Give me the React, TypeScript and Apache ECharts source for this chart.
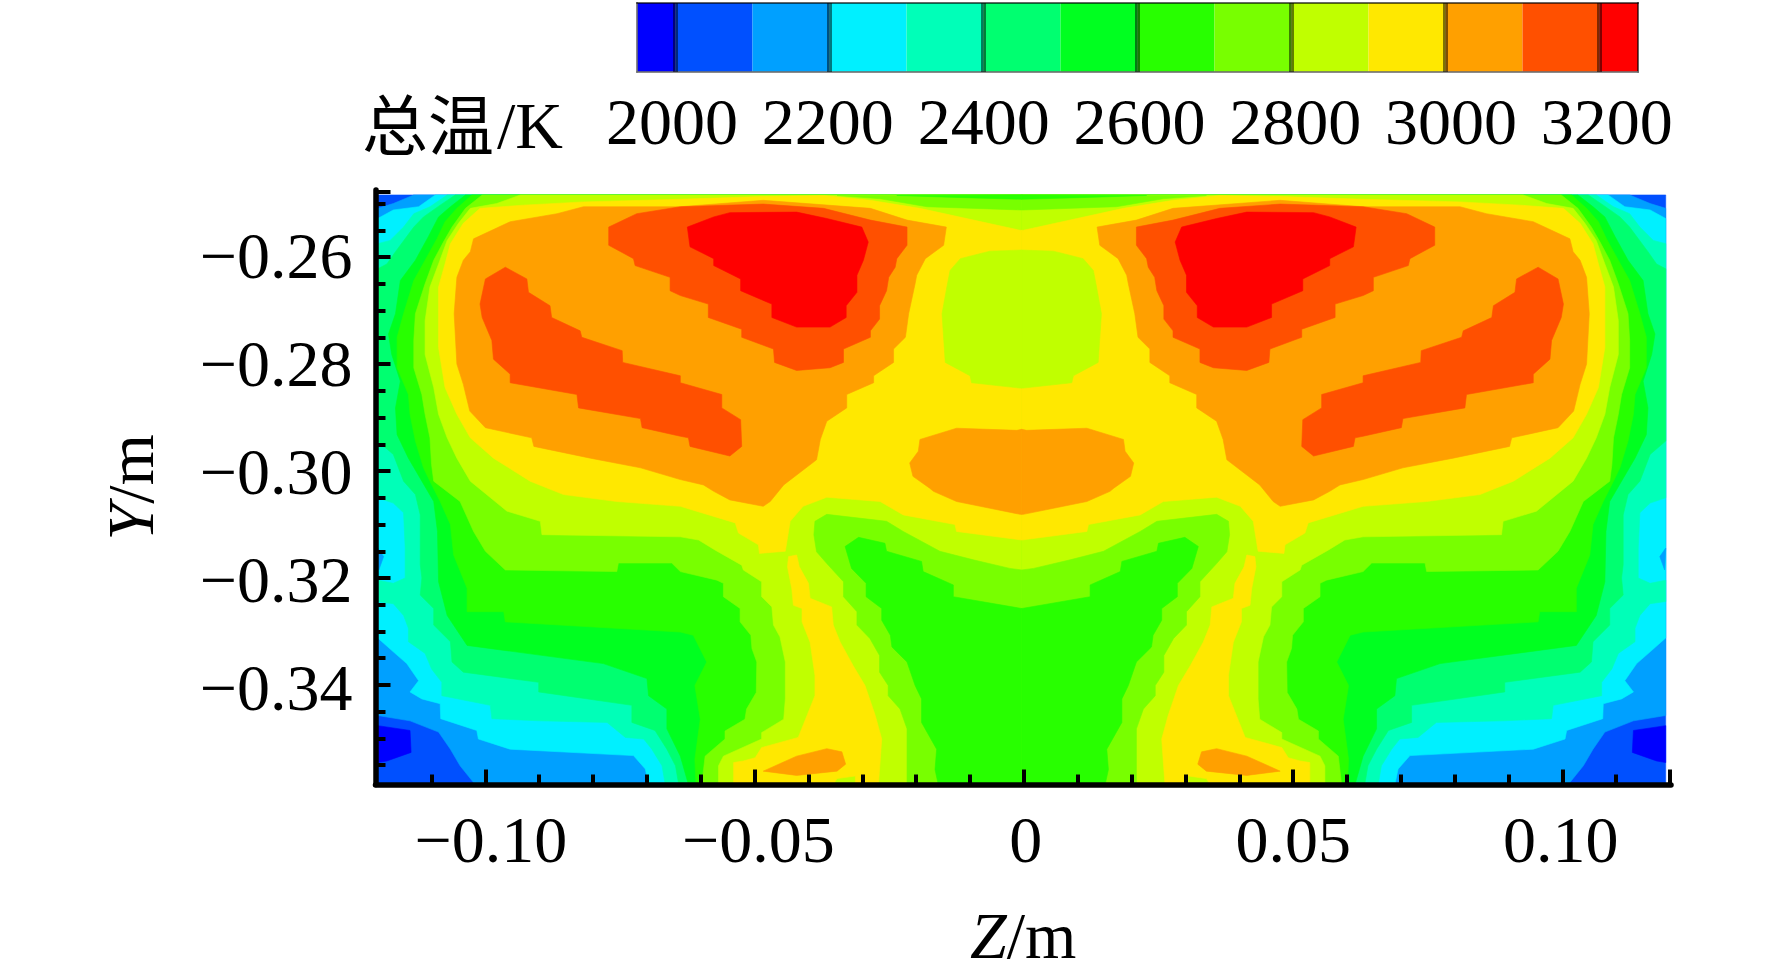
import React, { useEffect, useRef } from "react";
import * as echarts from "echarts";

// Temperature bands of the colour bar (K) and their colours.
const BAND_EDGES = [1950, 2000, 2100, 2200, 2300, 2400, 2500, 2600, 2700, 2800, 2900, 3000, 3100, 3200, 3250];
const BAND_COLORS = ["#0000ff", "#0050ff", "#00a0ff", "#00f0ff", "#00ffb8", "#00ff70", "#00ff20", "#28ff00", "#78ff00", "#c0ff00", "#ffe800", "#ffa000", "#ff5000", "#ff0000"];
const BAR_LABELS = [2000, 2200, 2400, 2600, 2800, 3000, 3200];
const Z_LABELS = [-0.1, -0.05, 0, 0.05, 0.1];
const Z_MINOR = [-0.11, -0.09, -0.08, -0.07, -0.06, -0.04, -0.03, -0.02, -0.01, 0.01, 0.02, 0.03, 0.04, 0.06, 0.07, 0.08, 0.09, 0.11];
const Y_LABELS = [-0.26, -0.28, -0.3, -0.32, -0.34];
const Y_MINOR = [-0.25, -0.255, -0.265, -0.27, -0.275, -0.285, -0.29, -0.295, -0.305, -0.31, -0.315, -0.325, -0.33, -0.335, -0.345, -0.35, -0.355];

const SYMMETRY_Z_MM = -0.4;

// Contour outlines of the left half, [Z mm, Y mm].
const T_BELOW_2100: number[][] = [[-120, -248.4], [-0.4, -248.4], [-0.4, -358.6], [-120, -358.6]];
const T_BELOW_2000: number[][] = [[-120, -347.6], [-114, -348.5], [-113.8, -352.6], [-118.3, -354.2], [-120, -354.5]];
const T_2100: number[][] = [[-113.3, -248.4], [-0.4, -248.4], [-0.4, -358.6], [-101.9, -358.6], [-104.7, -355.1], [-106.5, -352], [-108.7, -348.8], [-114, -346.7], [-120, -345.7], [-120, -250.9], [-117.1, -250]];
const T_2200: number[][] = [[-109.3, -248.4], [-0.4, -248.4], [-0.4, -358.6], [-69.7, -358.6], [-70.3, -355.7], [-72.5, -353.2], [-95.4, -352], [-101.3, -350.1], [-101.6, -348.5], [-108.3, -346.3], [-108.4, -343.5], [-111.8, -342.6], [-114, -341.3], [-112.4, -339.2], [-114.6, -336], [-117.1, -333.8], [-120, -331.2], [-120, -252.8], [-117.1, -251.2], [-112.4, -250.6]];
const WALL_DIP_2200: number[][] = [[-120, -314.4], [-118.9, -316], [-119.8, -318.5]];
const T_2300: number[][] = [[-107.1, -248.4], [-0.4, -248.4], [-0.4, -358.6], [-66.6, -358.6], [-67.2, -355.1], [-69.1, -352], [-70.6, -350.1], [-74, -349.8], [-77.4, -347], [-89.8, -346.7], [-98.8, -346.3], [-99.1, -343.8], [-108.1, -342], [-108.1, -339.5], [-110, -337], [-111.2, -334.1], [-114.3, -331.9], [-114.3, -329.4], [-115.2, -327], [-117.1, -324.8], [-120, -324.4], [-120, -320.4], [-117.1, -321], [-114.9, -320], [-114.9, -314.4], [-115.2, -307.8], [-117.1, -306], [-120, -305], [-120, -257.5], [-117.7, -256.9], [-115.2, -254.4], [-113.3, -251.9], [-110.3, -250.6]];
const T_2400: number[][] = [[-105.6, -248.4], [-0.4, -248.4], [-0.4, -358.6], [-64.1, -358.6], [-64.7, -355.1], [-66.3, -352], [-68.5, -348.5], [-72.8, -347], [-72.8, -343.8], [-90.1, -341.3], [-90.1, -339.5], [-104.1, -337.6], [-106.2, -335.7], [-106.5, -331.9], [-109.6, -328.8], [-109.6, -325.7], [-112.1, -323.2], [-111.8, -320], [-112.1, -317.5], [-112.1, -308.2], [-113, -304.4], [-115.2, -301.9], [-117.1, -296.9], [-120, -294.4], [-120, -262.2], [-118.3, -261.3], [-116.7, -259], [-113.3, -254.4], [-111.5, -252.5], [-108.4, -250.3]];
const T_2500: number[][] = [[-103.7, -248.4], [-0.4, -248.4], [-0.4, -358.6], [-62.3, -358.6], [-63.8, -353.3], [-66.3, -348.2], [-66.3, -344.5], [-69.7, -342], [-70, -338.8], [-78.1, -336], [-103.4, -332.6], [-107.1, -327], [-108.7, -320.7], [-108.9, -311.3], [-109.6, -305.7], [-111.8, -301.9], [-114.3, -297.6], [-116.4, -293.2], [-116.7, -288.2], [-115.8, -283.2], [-117.4, -278.2], [-118, -274.4], [-116.7, -270.6], [-115.8, -264.4], [-113, -260.6], [-110.6, -256.2], [-108.7, -252.5], [-106.5, -250.6]];
const T_2600: number[][] = [[-102.5, -248.4], [-0.4, -248.4], [-0.4, -358.6], [-60.9, -358.6], [-61.1, -353.9], [-60.1, -346.4], [-61.1, -340.1], [-58.9, -335.7], [-61.4, -330.7], [-63.8, -330.1], [-96.3, -328.2], [-96.6, -326.3], [-103.4, -326.3], [-103.4, -321.9], [-105.9, -315.7], [-106.5, -310], [-108.4, -305.7], [-110.3, -301.9], [-111.5, -299.4], [-113, -294.4], [-114, -289.4], [-114.3, -285.7], [-116.4, -280.7], [-116.4, -275], [-115.2, -270.6], [-113.3, -264.4], [-111.2, -260.6], [-109, -256.6], [-107.5, -253.4], [-105.3, -250.9]];
const T_2700: number[][] = [[-100.6, -248.4], [-0.4, -248.4], [-0.4, -358.6], [-59.8, -358.6], [-59.2, -353.3], [-55.5, -350.1], [-55.5, -348.6], [-51.8, -346.4], [-51.5, -344.5], [-49.7, -341.4], [-49.6, -335.7], [-50.5, -333.2], [-50.7, -330.7], [-52.7, -328.2], [-52.7, -325.7], [-55.8, -323.5], [-55.8, -321], [-57, -320.4], [-63.8, -318.8], [-65.4, -317.2], [-75.3, -317.2], [-75.6, -318.8], [-96.3, -318.5], [-100, -315], [-102.2, -311.3], [-104.7, -305.7], [-109.6, -301.9], [-110, -298.8], [-110.3, -293.8], [-111.2, -289.4], [-111.8, -285.7], [-113.3, -280.7], [-113.3, -275.6], [-113, -270.6], [-111.2, -265], [-109.6, -260.6], [-107.8, -257.2], [-106.2, -254.4], [-103.7, -250.9]];
const T_2800: number[][] = [[-93.5, -248.4], [-0.4, -248.4], [-0.4, -358.6], [-56.7, -358.6], [-56.7, -355.1], [-55.8, -353.3], [-48.7, -350.1], [-48.7, -348.9], [-44.6, -346.4], [-44.3, -342.6], [-44.3, -335.7], [-45.3, -331], [-46.5, -328.8], [-46.8, -325.4], [-48.7, -323.5], [-48.7, -320.7], [-52.1, -318.5], [-52.4, -317.6], [-57.3, -314.8], [-60.4, -312.9], [-63.8, -312.3], [-89.5, -311.9], [-89.8, -309.4], [-96, -307.5], [-102.8, -301.9], [-105.3, -297.6], [-107.1, -293.8], [-108.7, -289.4], [-109.6, -284.4], [-111.2, -278.2], [-111.2, -271.9], [-110.3, -265.6], [-108.7, -261.3], [-107.1, -256.9], [-105, -253.7], [-102.8, -250.9], [-97.9, -250]];
const CORE_DIP_2800: number[][] = [[-0.4, -318.5], [-2.6, -318.2], [-9.4, -316.6], [-15.6, -315], [-22.4, -311.3], [-25.5, -309.4], [-36.6, -308.1], [-38.8, -309.4], [-39, -311.9], [-38.5, -315.1], [-36.6, -317.3], [-33.5, -320.7], [-33.5, -323.5], [-31, -326.3], [-31, -328.8], [-28.6, -331.3], [-26.8, -334.5], [-26.8, -337.6], [-25.2, -340.1], [-25.2, -342], [-23, -344.5], [-21.7, -348.2], [-21.7, -358.6], [-0.4, -358.6]];
const CORE_DIP_2700: number[][] = [[-0.4, -325.7], [-13.1, -323.5], [-13.1, -321.3], [-18.7, -318.8], [-19, -316.9], [-25.5, -315], [-25.8, -313.5], [-30.7, -312.4], [-33.2, -314.1], [-32, -318.2], [-29.3, -321], [-29.3, -323.5], [-26.4, -325.7], [-26.4, -327.9], [-24.8, -330.7], [-24.5, -332.9], [-21.7, -335.7], [-20.2, -340.1], [-19, -342.6], [-19, -347], [-16.2, -352], [-16.5, -355.8], [-15.9, -358.6], [-0.4, -358.6]];
const TOP_DIP_2800: number[][] = [[-34.7, -248.5], [-26.7, -249.1], [-18, -250.6], [-0.7, -251.2], [-0.4, -251.2], [-0.4, -248.4]];
const TOP_DIP_2700: number[][] = [[-23.6, -248.5], [-11.2, -248.9], [-0.4, -249.2], [-0.4, -248.4]];
const T_2900: number[][] = [[-101, -250.9], [-92.9, -250.3], [-81.8, -249.7], [-63.8, -249.2], [-49, -248.7], [-37.2, -248.5], [-28.5, -249.4], [-19.3, -250.9], [-0.7, -255], [-0.4, -255], [-0.4, -312.9], [-12.5, -311.3], [-12.8, -310], [-22.4, -308.2], [-26.7, -305.7], [-36.6, -304.9], [-41, -306.6], [-43.4, -309.4], [-44.3, -315], [-49.1, -315.4], [-49.3, -313.8], [-53, -311.6], [-53.6, -309.7], [-63.8, -306.6], [-75.6, -305.7], [-85.5, -304.4], [-91.7, -301.9], [-98.5, -297.6], [-102.8, -293.8], [-105.3, -289.4], [-107.5, -284.4], [-108.7, -276.9], [-108.7, -265.6], [-107.5, -261.3], [-106.5, -257.5], [-104.1, -253.7]];
const STEM_2900: number[][] = [[-43.7, -316], [-42.2, -315.7], [-41.7, -317.9], [-40, -321], [-39.7, -323.8], [-35.7, -325.4], [-35.4, -328.8], [-34.1, -332], [-31.7, -336.4], [-29.5, -340.1], [-27.6, -345.7], [-26.4, -350.1], [-27, -358.6], [-31.3, -358.6], [-31.3, -357], [-34.7, -357.5], [-35.4, -358.6], [-53.9, -358.6], [-53.9, -354.5], [-52.1, -354.2], [-49.9, -353.6], [-48.7, -351.7], [-41.9, -349.8], [-38.8, -342], [-38.8, -338.2], [-39.7, -332], [-41.2, -328.2], [-41.2, -325.7], [-42.8, -325.1], [-43.1, -322], [-43.9, -317.9]];
const CENTRE_DIP_2800: number[][] = [[-0.4, -258.7], [-6.3, -258.9], [-11.8, -260.3], [-13.7, -262.5], [-14.3, -265.6], [-15.2, -270.6], [-14.6, -279.7], [-10, -282.2], [-9.7, -283.5], [-0.7, -284.5], [-0.4, -284.5]];
const T_3000: number[][] = [[-81.8, -250.6], [-63.8, -250.6], [-48.4, -249.4], [-28.5, -250.9], [-21.7, -253.1], [-14.4, -254.4], [-14.9, -257.8], [-18.3, -260.3], [-19.9, -263.4], [-20.2, -265], [-21.4, -270.6], [-22, -275], [-24.2, -277.2], [-24.2, -279.7], [-27.9, -282.2], [-27.9, -283.5], [-32.9, -285.7], [-32.9, -288.2], [-36.6, -290.7], [-37.8, -294.1], [-38.5, -297.9], [-44.6, -302.6], [-47.1, -305.7], [-48.4, -306.6], [-54.6, -305.4], [-57.6, -303.8], [-59.5, -302.6], [-63.8, -301.6], [-71.2, -299.4], [-80.5, -297.6], [-91, -295.4], [-91.4, -293.8], [-100, -291.9], [-102.9, -288.8], [-104.1, -283.8], [-105.3, -280], [-105.8, -270.6], [-105.3, -263.8], [-104.1, -260.6], [-102.8, -259], [-102.2, -256.6], [-95.4, -253.4], [-86.7, -251.9]];
const CENTRE_BLOB_3000: number[][] = [[-0.4, -292.2], [-1.3, -292.4], [-12.5, -292], [-19.3, -294.1], [-19.6, -296.3], [-21.2, -298.5], [-20.6, -301], [-17.5, -303.2], [-16.8, -303.8], [-12.5, -305.7], [-0.7, -308.1], [-0.4, -308.1]];
const TIP_3000: number[][] = [[-48.4, -356.1], [-42.2, -353.3], [-36.6, -351.9], [-33.8, -352.5], [-33.1, -354.8], [-34.7, -356.1], [-42.2, -356.9]];
const UPPER_3100: number[][] = [[-77.1, -254.4], [-71.9, -251.9], [-63.8, -250.6], [-48.4, -250.1], [-37.2, -250.9], [-28.5, -253.1], [-21.7, -254.4], [-21.7, -257.8], [-23.6, -260.3], [-23.9, -261.9], [-25.1, -263.8], [-25.5, -266.3], [-26.8, -269.1], [-26.8, -271.6], [-28.5, -273.8], [-28.5, -275], [-33.5, -277.2], [-33.5, -279.7], [-36, -280.7], [-42.2, -281.2], [-46.3, -279.7], [-46.5, -277.2], [-52.4, -275], [-52.4, -273.5], [-58.6, -271.3], [-58.6, -268.8], [-63.8, -267.2], [-65.7, -266.3], [-65.7, -263.8], [-72.2, -261.6], [-72.5, -260.3], [-77.1, -257.8]];
const LOWER_3100: number[][] = [[-100, -264.1], [-96.3, -261.9], [-92.3, -264.1], [-92, -266.6], [-88, -269.1], [-87.7, -271.3], [-82.4, -273.8], [-82.1, -275], [-74.6, -277.5], [-74.5, -279.7], [-63.8, -282.2], [-63.8, -283.5], [-56.1, -285.7], [-56.1, -288.2], [-52.6, -290.4], [-52.4, -295.4], [-54.6, -297.2], [-62, -295.4], [-62.3, -293.8], [-63.8, -293.5], [-70.9, -291.9], [-71.2, -290.2], [-82.7, -288.2], [-83, -285.7], [-95.4, -283.5], [-95.4, -281.9], [-98.5, -279.1], [-98.8, -275.6], [-100.6, -271.3], [-101, -268.8]];
const T_3200: number[][] = [[-62.5, -254.4], [-57.6, -252.5], [-54.6, -251.7], [-42.2, -251.6], [-36.6, -252.8], [-30.1, -254.4], [-28.9, -257.2], [-29.8, -260.6], [-31, -263.4], [-31, -266.6], [-33, -269.1], [-33, -271.3], [-36, -273.1], [-42.2, -273.1], [-46.8, -271.3], [-46.8, -268.8], [-52.6, -266.3], [-52.6, -264.1], [-57.6, -261.6], [-57.6, -260.3], [-62, -258.1]];

// Painting order, outermost first: [index into BAND_COLORS, outline].
const LAYERS: [number, number[][]][] = [
  [1, T_BELOW_2100], [0, T_BELOW_2000], [2, T_2100], [3, T_2200], [2, WALL_DIP_2200], [4, T_2300], [5, T_2400], [6, T_2500],
  [7, T_2600], [8, T_2700], [9, T_2800], [8, CORE_DIP_2800], [7, CORE_DIP_2700], [8, TOP_DIP_2800], [7, TOP_DIP_2700],
  [10, T_2900], [10, STEM_2900], [9, CENTRE_DIP_2800], [11, T_3000], [11, CENTRE_BLOB_3000], [11, TIP_3000],
  [12, UPPER_3100], [12, LOWER_3100], [13, T_3200],
];

const SERIF = "'Liberation Serif', 'Times New Roman', serif";
const CJK = "'Noto Sans CJK SC', sans-serif";
const FONT = 66;
const Y_MIN = -0.3586;
const Y_MAX = -0.24747;
const Z_MIN = -0.12041;
const Z_MAX = 0.12018;

function signed(v: number): string {
  if (Math.abs(v) < 1e-9) return "0";
  return (v < 0 ? "\u2212" : "") + Math.abs(v).toFixed(2);
}

export default function App() {
  const ref = useRef<HTMLDivElement>(null);
  useEffect(() => {
    const chart = echarts.init(ref.current!, undefined, { renderer: "svg" });
    const polygons: { color: string; pts: number[][] }[] = [];
    LAYERS.forEach(([band, pts]) => {
      polygons.push({ color: BAND_COLORS[band], pts });
      polygons.push({ color: BAND_COLORS[band], pts: pts.map(([z, y]) => [2 * SYMMETRY_Z_MM - z, y]) });
    });
    const bandRows = BAND_COLORS.map((_, i) => [BAND_EDGES[i], BAND_EDGES[i + 1]]);
    const black = { color: "#000", width: 4 };
    chart.setOption({
      animation: false,
      backgroundColor: "#fff",
      grid: [
        { left: 375.5, right: 101, top: 190, bottom: 192.5 },
        { left: 637, right: 134, top: 3, height: 69 },
      ],
      xAxis: [
        {
          gridIndex: 0, type: "value", min: Z_MIN, max: Z_MAX, position: "bottom", z: 10,
          splitLine: { show: false }, axisLabel: { show: false },
          axisLine: { show: true, onZero: false, lineStyle: { color: "#000", width: 5.5 } },
          axisTick: { show: true, inside: true, length: 15, lineStyle: black, customValues: [...Z_LABELS, 0.12] },
          name: "{i|Z}{r|/m}", nameLocation: "middle", nameGap: 118,
          nameTextStyle: {
            rich: {
              i: { fontFamily: SERIF, fontStyle: "italic", fontSize: FONT, color: "#000" },
              r: { fontFamily: SERIF, fontSize: FONT, color: "#000" },
            },
          },
        },
        {
          gridIndex: 0, type: "value", min: Z_MIN, max: Z_MAX, position: "bottom", z: 10,
          splitLine: { show: false }, axisLine: { show: false, onZero: false }, axisLabel: { show: false },
          axisTick: { show: true, inside: true, length: 10, lineStyle: black, customValues: Z_MINOR },
        },
        {
          gridIndex: 1, type: "value", min: 1950, max: 3250, position: "top", z: 10,
          splitLine: { show: false }, axisLabel: { show: false },
          axisLine: { show: true, onZero: false, lineStyle: { color: "rgba(0,0,0,0.6)", width: 2 } },
          axisTick: { show: true, inside: true, length: 69, lineStyle: { color: "rgba(0,0,0,0.5)", width: 5 }, customValues: BAR_LABELS },
        },
        {
          gridIndex: 1, type: "value", min: 1955, max: 3240, position: "bottom", z: 10,
          splitLine: { show: false }, axisTick: { show: false },
          axisLine: { show: true, onZero: false, lineStyle: { color: "rgba(110,110,110,0.8)", width: 2 } },
          axisLabel: {
            show: true, customValues: BAR_LABELS, margin: 16, formatter: (v: number) => String(v),
            fontFamily: SERIF, fontSize: FONT, color: "#000",
          },
        },
        {
          // The printed Z labels sit slightly closer together than the ticks.
          gridIndex: 0, type: "value", min: -0.12155, max: 0.1206, position: "bottom", z: 10,
          splitLine: { show: false }, axisLine: { show: false, onZero: false }, axisTick: { show: false },
          axisLabel: {
            show: true, customValues: Z_LABELS, formatter: signed, margin: 22,
            fontFamily: SERIF, fontSize: FONT, color: "#000",
          },
        },
      ],
      yAxis: [
        {
          gridIndex: 0, type: "value", min: Y_MIN, max: Y_MAX, position: "left", z: 10,
          splitLine: { show: false }, axisLabel: { show: false },
          axisLine: { show: true, onZero: false, lineStyle: { color: "#000", width: 5.5 } },
          axisTick: { show: true, inside: true, length: 15, lineStyle: black, customValues: [...Y_LABELS, -0.2478] },
          name: "{i|Y}{r|/m}", nameLocation: "middle", nameGap: 212,
          nameTextStyle: {
            rich: {
              i: { fontFamily: SERIF, fontStyle: "italic", fontSize: FONT, color: "#000" },
              r: { fontFamily: SERIF, fontSize: FONT, color: "#000" },
            },
          },
        },
        {
          gridIndex: 0, type: "value", min: Y_MIN, max: Y_MAX, position: "left", z: 10,
          splitLine: { show: false }, axisLine: { show: false, onZero: false }, axisLabel: { show: false },
          axisTick: { show: true, inside: true, length: 10, lineStyle: black, customValues: Y_MINOR },
        },
        {
          gridIndex: 1, type: "value", min: 0, max: 1, position: "left", z: 10,
          splitLine: { show: false }, axisLabel: { show: false }, axisTick: { show: false },
          axisLine: { show: true, onZero: false, lineStyle: { color: "rgba(110,110,110,0.8)", width: 2 } },
        },
        {
          gridIndex: 1, type: "value", min: 0, max: 1, position: "right", z: 10,
          splitLine: { show: false }, axisLabel: { show: false }, axisTick: { show: false },
          axisLine: { show: true, onZero: false, lineStyle: { color: "rgba(0,0,0,0.6)", width: 2 } },
        },
        {
          // The printed Y labels sit slightly further apart than the ticks.
          gridIndex: 0, type: "value", min: -0.35805, max: -0.24796, position: "left", z: 10,
          splitLine: { show: false }, axisLine: { show: false, onZero: false }, axisTick: { show: false },
          axisLabel: {
            show: true, customValues: Y_LABELS, formatter: signed, margin: 23,
            fontFamily: SERIF, fontSize: FONT, color: "#000",
          },
        },
      ],
      series: [
        {
          type: "custom", xAxisIndex: 0, yAxisIndex: 0, silent: true, clip: false,
          data: polygons.map((_, i) => [i]),
          renderItem: (params: any, api: any) => {
            const p = polygons[params.dataIndex];
            return {
              type: "polygon",
              shape: { points: p.pts.map(([z, y]) => api.coord([z / 1000, y / 1000])) },
              style: { fill: p.color, stroke: p.color, lineWidth: 0.6 },
            };
          },
        },
        {
          type: "custom", xAxisIndex: 2, yAxisIndex: 2, silent: true,
          data: bandRows,
          encode: { x: [0, 1] },
          renderItem: (params: any, api: any) => {
            const a = api.coord([api.value(0), 0]);
            const b = api.coord([api.value(1), 1]);
            return {
              type: "rect",
              shape: { x: a[0], y: b[1], width: b[0] - a[0], height: a[1] - b[1] },
              style: { fill: BAND_COLORS[params.dataIndex] },
            };
          },
        },
      ],
      graphic: [
        {
          type: "text", silent: true, x: 362, y: 121,
          style: { text: "总温", fontFamily: CJK, fontSize: FONT, fill: "#000", verticalAlign: "middle" },
        },
        {
          type: "text", silent: true, x: 497, y: 125,
          style: { text: "/K", fontFamily: SERIF, fontSize: FONT, fill: "#000", verticalAlign: "middle" },
        },
      ],
    });
    return () => chart.dispose();
  }, []);
  return <div ref={ref} style={{ position: "absolute", left: 0, top: 0, width: 1772, height: 977 }} />;
}
